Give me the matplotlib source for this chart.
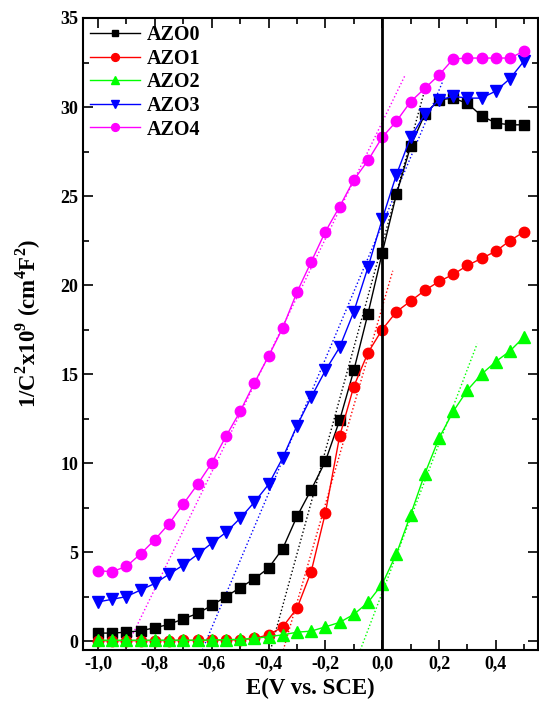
import matplotlib
matplotlib.use("Agg")
import matplotlib.pyplot as plt
from matplotlib.ticker import MultipleLocator, FuncFormatter

# -----------------------------------
# Data
# -----------------------------------
E = [-1.00, -0.95, -0.90, -0.85, -0.80, -0.75, -0.70, -0.65, -0.60, -0.55,
     -0.50, -0.45, -0.40, -0.35, -0.30, -0.25, -0.20, -0.15, -0.10, -0.05,
     0.00, 0.05, 0.10, 0.15, 0.20, 0.25, 0.30, 0.35, 0.40, 0.45, 0.50]

azo0 = [0.45, 0.45, 0.5, 0.58, 0.75, 0.94, 1.25, 1.55, 2.0, 2.5,
        3.0, 3.5, 4.1, 5.2, 7.0, 8.5, 10.1, 12.4, 15.2, 18.4,
        21.8, 25.1, 27.8, 29.6, 30.4, 30.5, 30.2, 29.5, 29.1, 29.0, 29.0]
azo1 = [0.02, 0.02, 0.02, 0.03, 0.03, 0.03, 0.04, 0.04, 0.05, 0.06,
        0.08, 0.15, 0.35, 0.8, 1.84, 3.9, 7.2, 11.5, 14.3, 16.2,
        17.5, 18.5, 19.1, 19.7, 20.2, 20.6, 21.1, 21.5, 21.9, 22.5, 23.0]
azo2 = [0.05, 0.05, 0.05, 0.05, 0.05, 0.05, 0.05, 0.05, 0.06, 0.08,
        0.1, 0.15, 0.25, 0.35, 0.5, 0.56, 0.8, 1.05, 1.5, 2.17,
        3.2, 4.9, 7.1, 9.4, 11.4, 12.9, 14.1, 15.0, 15.7, 16.3, 17.1]
azo3 = [2.2, 2.35, 2.5, 2.87, 3.24, 3.76, 4.27, 4.87, 5.5, 6.1,
        6.9, 7.8, 8.8, 10.3, 12.1, 13.7, 15.2, 16.5, 18.5, 21.0,
        23.7, 26.2, 28.3, 29.6, 30.4, 30.6, 30.5, 30.5, 30.9, 31.6, 32.6]
azo4 = [3.95, 3.9, 4.2, 4.9, 5.7, 6.6, 7.7, 8.8, 10.0, 11.5,
        12.9, 14.5, 16.0, 17.6, 19.6, 21.3, 23.0, 24.4, 25.9, 27.0,
        28.3, 29.2, 30.3, 31.05, 31.8, 32.7, 32.75, 32.75, 32.75, 32.75, 33.15]

labels = ["AZO0", "AZO1", "AZO2", "AZO3", "AZO4"]
colors = ["black", "#ff0000", "#00ff00", "#0000ff", "#ff00ff"]
markers = ["s", "o", "^", "v", "o"]

# tangent (linear fit) lines: start and end points
tan_x0 = [-0.393, -0.348, -0.077, -0.633, -0.905]
tan_x1 = [0.147, 0.037, 0.334, 0.212, 0.081]
tan_y0 = [-0.5, -0.5, -0.5, -0.5, -0.5]
tan_y1 = [30.8, 20.8, 16.7, 31.4, 31.8]

# -----------------------------------
# Style
# -----------------------------------
plt.rcParams['font.family'] = ['Liberation Serif', 'DejaVu Serif']
plt.rcParams['font.weight'] = 'bold'
plt.rcParams['mathtext.fontset'] = 'custom'
plt.rcParams['mathtext.rm'] = 'Liberation Serif:bold'
plt.rcParams['mathtext.bf'] = 'Liberation Serif:bold'

fig = plt.figure(figsize=(5.39, 7.03), dpi=100)
ax = fig.add_axes([0.154, 0.0754, 0.844, 0.899])

series = [azo0, azo1, azo2, azo3, azo4]
sizes = [6.5, 7.5, 8, 8, 7.5]
for i, ys in enumerate(series):
    ax.plot(E, ys, color=colors[i], marker=markers[i], markersize=sizes[i],
            lw=1.0, label=labels[i], zorder=3)
    ax.plot([tan_x0[i], tan_x1[i]], [tan_y0[i], tan_y1[i]],
            color=colors[i], lw=1.0, ls=':', zorder=2)

ax.axvline(0, color='black', lw=2, zorder=4)

ax.set_xlim(-1.053, 0.548)
ax.set_ylim(-0.5, 35)
ax.xaxis.set_major_locator(MultipleLocator(0.2))
ax.xaxis.set_minor_locator(MultipleLocator(0.1))
ax.yaxis.set_major_locator(MultipleLocator(5))
ax.yaxis.set_minor_locator(MultipleLocator(2.5))
ax.xaxis.set_major_formatter(FuncFormatter(
    lambda v, p: ("%.1f" % (0.0 if abs(v) < 1e-9 else v)).replace('.', ',')))
ax.yaxis.set_major_formatter(FuncFormatter(lambda v, p: "%d" % round(v)))
ax.tick_params(which='both', direction='in', top=True, right=True,
               labelsize=13, width=1.2)
ax.tick_params(which='major', length=7)
ax.tick_params(which='minor', length=4)
for s in ax.spines.values():
    s.set_linewidth(1.5)

ax.set_xlabel("E(V vs. SCE)", fontsize=16.5, fontweight='bold', labelpad=4)
ax.set_ylabel(r"1/C$^{\mathbf{2}}$x10$^{\mathbf{9}}$ (cm$^{\mathbf{4}}$F$^{\mathbf{2}}$)",
              fontsize=16.5, fontweight='bold')
ax.yaxis.set_label_coords(-0.088, 0.516)

ax.legend(loc='upper left', bbox_to_anchor=(0.0, 1.0), frameon=False,
          fontsize=14.5, numpoints=1, markerscale=0.75, handlelength=2.5,
          handletextpad=0.3, labelspacing=0.18, borderaxespad=0.2,
          borderpad=0.15)

plt.savefig("out.png", dpi=100)
